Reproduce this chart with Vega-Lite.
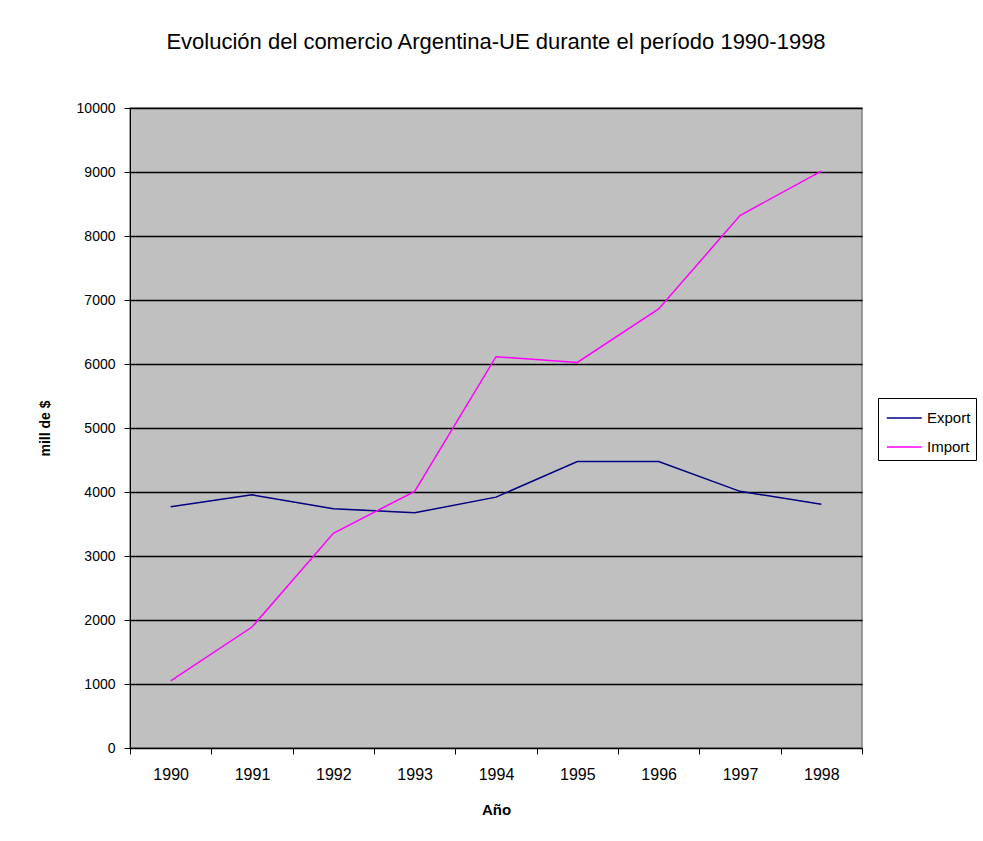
{
  "$schema": "https://vega.github.io/schema/vega-lite/v6.json",
  "autosize": {"type": "none"},
  "width": 732,
  "height": 640,
  "padding": {"left": 130, "top": 108, "right": 121, "bottom": 93},
  "background": "white",
  "title": {
    "text": "Evolución del comercio Argentina-UE durante el período 1990-1998",
    "font": "Liberation Sans",
    "fontSize": 22,
    "fontWeight": "normal",
    "color": "black",
    "anchor": "middle",
    "offset": 47
  },
  "config": {
    "view": {"fill": "#C0C0C0", "stroke": "#808080", "strokeWidth": 1.5}
  },
  "data": {
    "values": [
      {"year": "1990", "serie": "Export", "value": 3770},
      {"year": "1991", "serie": "Export", "value": 3955},
      {"year": "1992", "serie": "Export", "value": 3740},
      {"year": "1993", "serie": "Export", "value": 3675},
      {"year": "1994", "serie": "Export", "value": 3920},
      {"year": "1995", "serie": "Export", "value": 4475},
      {"year": "1996", "serie": "Export", "value": 4475},
      {"year": "1997", "serie": "Export", "value": 4010},
      {"year": "1998", "serie": "Export", "value": 3810},
      {"year": "1990", "serie": "Import", "value": 1050},
      {"year": "1991", "serie": "Import", "value": 1890},
      {"year": "1992", "serie": "Import", "value": 3355},
      {"year": "1993", "serie": "Import", "value": 4010},
      {"year": "1994", "serie": "Import", "value": 6114},
      {"year": "1995", "serie": "Import", "value": 6025},
      {"year": "1996", "serie": "Import", "value": 6860},
      {"year": "1997", "serie": "Import", "value": 8320},
      {"year": "1998", "serie": "Import", "value": 9015}
    ]
  },
  "mark": {"type": "line", "strokeWidth": 1.5},
  "encoding": {
    "x": {
      "field": "year",
      "type": "ordinal",
      "scale": {"type": "band", "paddingInner": 0, "paddingOuter": 0},
      "axis": {
        "title": "Año",
        "labelAngle": 0,
        "tickBand": "extent",
        "labelPadding": 12,
        "titlePadding": 20,
        "grid": false,
        "labelFont": "Liberation Sans",
        "labelFontSize": 16,
        "labelColor": "black",
        "titleFont": "Liberation Sans",
        "titleFontSize": 15,
        "titleFontWeight": "bold",
        "titleColor": "black",
        "domainColor": "black",
        "tickColor": "black",
        "tickSize": 6
      }
    },
    "y": {
      "field": "value",
      "type": "quantitative",
      "scale": {"domain": [0, 10000], "nice": false},
      "axis": {
        "title": "mill de $",
        "values": [0, 1000, 2000, 3000, 4000, 5000, 6000, 7000, 8000, 9000, 10000],
        "format": "d",
        "grid": true,
        "gridColor": "black",
        "gridWidth": 1.5,
        "gridOpacity": 1,
        "labelPadding": 9,
        "titlePadding": 24,
        "labelFont": "Liberation Sans",
        "labelFontSize": 14,
        "labelColor": "black",
        "titleFont": "Liberation Sans",
        "titleFontSize": 14,
        "titleFontWeight": "bold",
        "titleColor": "black",
        "domainColor": "black",
        "tickColor": "black",
        "tickSize": 6
      }
    },
    "color": {
      "field": "serie",
      "type": "nominal",
      "scale": {"domain": ["Export", "Import"], "range": ["#000080", "#FF00FF"]},
      "legend": {
        "title": null,
        "orient": "none",
        "legendX": 748,
        "legendY": 290,
        "strokeColor": "black",
        "fillColor": "white",
        "padding": 5,
        "symbolType": "M-0.8,0H1.7",
        "symbolSize": 784,
        "symbolStrokeWidth": 1.5,
        "labelFont": "Liberation Sans",
        "labelFontSize": 15,
        "labelColor": "black",
        "labelOffset": 14,
        "rowPadding": 6
      }
    }
  }
}
